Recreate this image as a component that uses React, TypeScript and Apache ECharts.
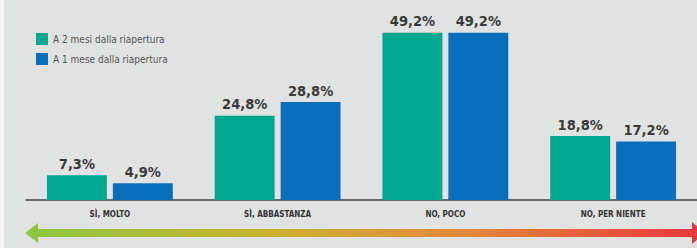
import React, { useEffect, useRef } from "react";
import * as echarts from "echarts";

const categories = ["SÌ, MOLTO", "SÌ, ABBASTANZA", "NO, POCO", "NO, PER NIENTE"];
const seriesNames = ["A 2 mesi dalla riapertura", "A 1 mese dalla riapertura"];
const twoMonths = [7.3, 24.8, 49.2, 18.8];
const oneMonth = [4.9, 28.8, 49.2, 17.2];

const BG = "#e1e2e2";
const GREEN = "#00a78f";
const BLUE = "#0a6fba";
const FONT = "'Liberation Sans Narrow', 'DejaVu Sans Condensed', sans-serif";

export default function App() {
  const ref = useRef<HTMLDivElement>(null);
  useEffect(() => {
    document.body.style.margin = "0";
    const chart = echarts.init(ref.current!, null, { renderer: "svg" });
    const fmt = (p: any) => String(p.value).replace(".", ",") + "%";
    const label = {
      show: true,
      position: "top",
      distance: 4,
      formatter: fmt,
      fontFamily: FONT,
      fontWeight: "bold",
      fontSize: 14.5,
      color: "#3a3a3a",
    };
    chart.setOption({
      animation: false,
      backgroundColor: BG,
      grid: { left: 26, right: -1, top: 13, bottom: 48 },
      legend: {
        orient: "vertical",
        left: 31,
        top: 28,
        itemWidth: 12,
        itemHeight: 12,
        itemGap: 8,
        icon: "rect",
        textStyle: { fontFamily: FONT, fontSize: 10, color: "#555" },
        data: seriesNames,
      },
      xAxis: {
        type: "category",
        data: categories,
        axisLine: { lineStyle: { color: "#444", width: 1.5 } },
        axisTick: { show: false },
        axisLabel: {
          fontFamily: FONT,
          fontWeight: "bold",
          fontSize: 8,
          color: "#333",
          margin: 10,
        },
      },
      yAxis: { type: "value", min: 0, max: 55, show: false, splitLine: { show: false } },
      series: [
        {
          name: seriesNames[0],
          type: "bar",
          data: twoMonths,
          itemStyle: { color: GREEN },
          barGap: "10%",
          barCategoryGap: "25%",
          label,
        },
        {
          name: seriesNames[1],
          type: "bar",
          data: oneMonth,
          itemStyle: { color: BLUE },
          barGap: "10%",
          barCategoryGap: "25%",
          label,
        },
      ],
      graphic: [
        {
          type: "rect",
          shape: { x: 0, y: 0, width: 4, height: 248 },
          style: { fill: "#f4f4f4" },
          silent: true,
        },
        {
          type: "polygon",
          silent: true,
          shape: {
            points: [
              [25, 233],
              [38, 223],
              [38, 229],
              [692, 229],
              [692, 222],
              [705, 233],
              [692, 244],
              [692, 237],
              [38, 237],
              [38, 243],
            ],
          },
          style: {
            fill: new echarts.graphic.LinearGradient(0, 0, 1, 0, [
              { offset: 0, color: "#8cc63f" },
              { offset: 0.35, color: "#c8b32f" },
              { offset: 0.65, color: "#e5893a" },
              { offset: 1, color: "#e8343c" },
            ]),
          },
        },
      ],
    });
    return () => chart.dispose();
  }, []);
  return <div ref={ref} style={{ width: 697, height: 248 }} />;
}
